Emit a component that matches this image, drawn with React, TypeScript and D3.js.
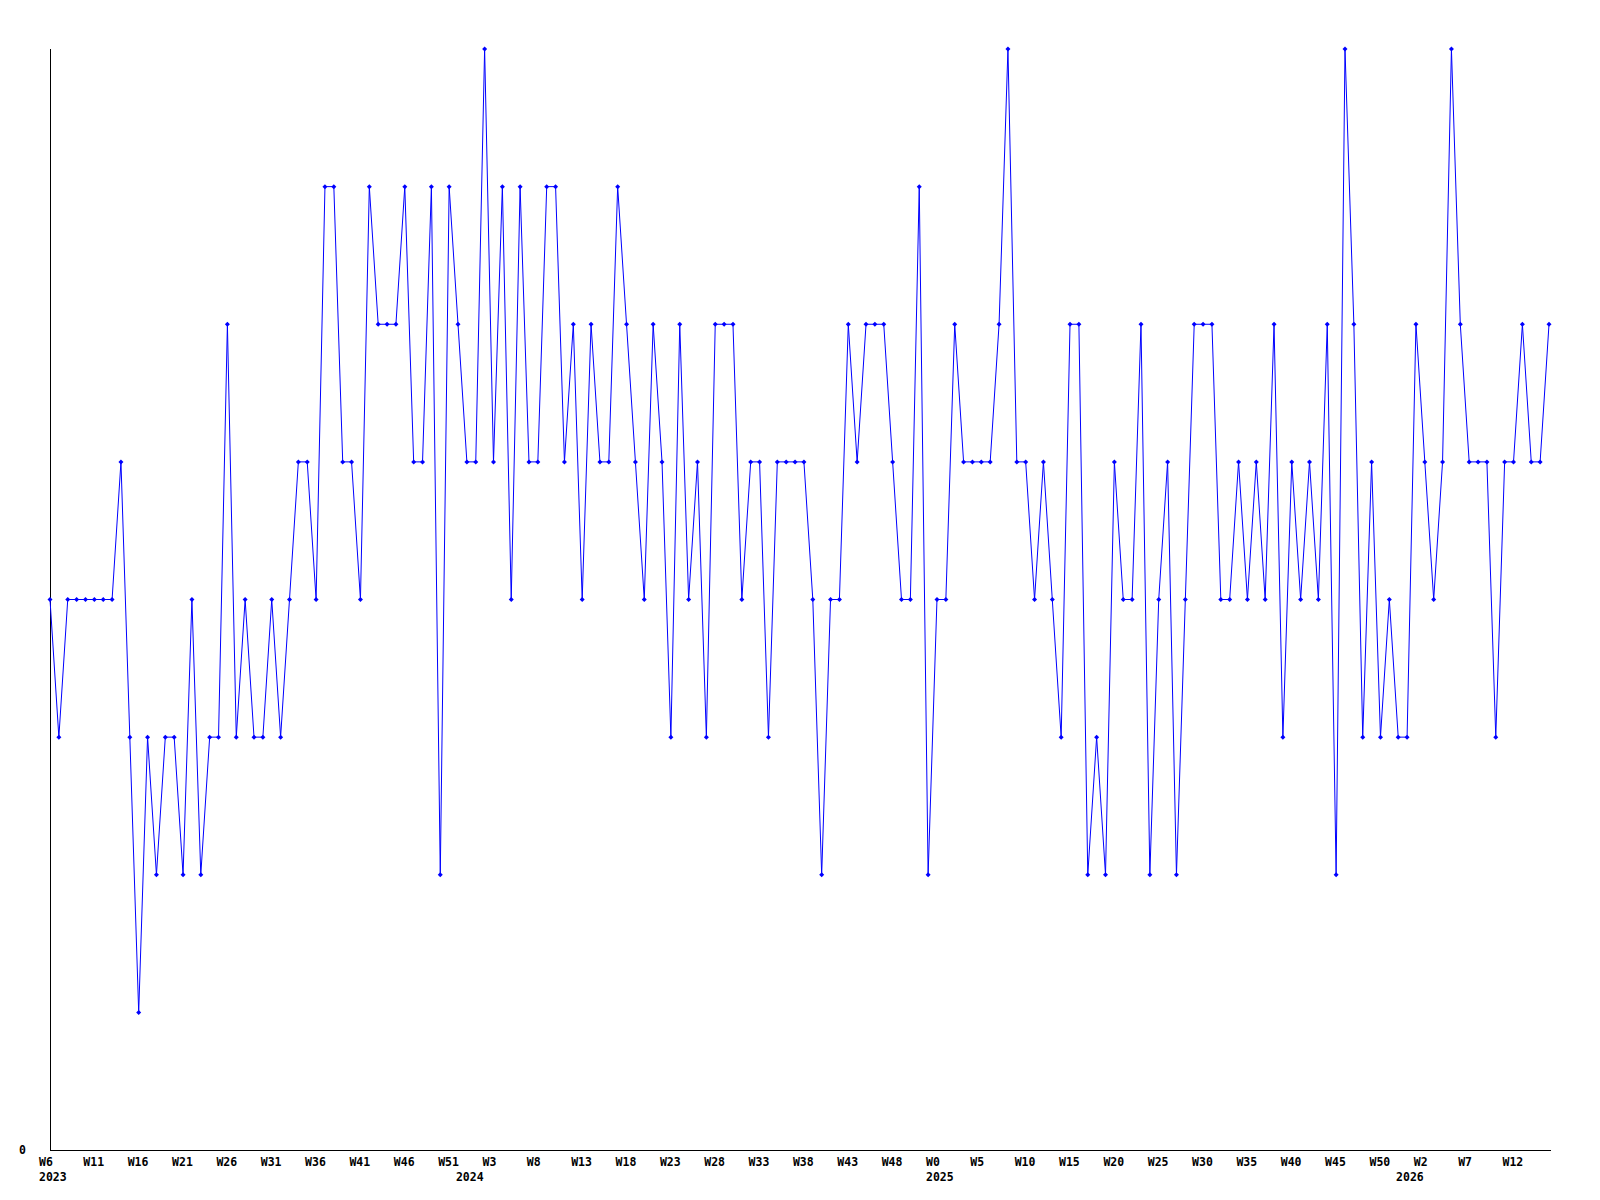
import React from "react";
import * as d3 from "d3";

const values: number[] = [
  4, 3, 4, 4, 4, 4, 4, 4, 5, 3,
  1, 3, 2, 3, 3, 2, 4, 2, 3, 3,
  6, 3, 4, 3, 3, 4, 3, 4, 5, 5,
  4, 7, 7, 5, 5, 4, 7, 6, 6, 6,
  7, 5, 5, 7, 2, 7, 6, 5, 5, 8,
  5, 7, 4, 7, 5, 5, 7, 7, 5, 6,
  4, 6, 5, 5, 7, 6, 5, 4, 6, 5,
  3, 6, 4, 5, 3, 6, 6, 6, 4, 5,
  5, 3, 5, 5, 5, 5, 4, 2, 4, 4,
  6, 5, 6, 6, 6, 5, 4, 4, 7, 2,
  4, 4, 6, 5, 5, 5, 5, 6, 8, 5,
  5, 4, 5, 4, 3, 6, 6, 2, 3, 2,
  5, 4, 4, 6, 2, 4, 5, 2, 4, 6,
  6, 6, 4, 4, 5, 4, 5, 4, 6, 3,
  5, 4, 5, 4, 6, 2, 8, 6, 3, 5,
  3, 4, 3, 3, 6, 5, 4, 5, 8, 6,
  5, 5, 5, 3, 5, 5, 6, 5, 5, 6,
];

const weekLabels: string[] = [
  "W6", "W11", "W16", "W21", "W26", "W31", "W36", "W41", "W46", "W51",
  "W3", "W8", "W13", "W18", "W23", "W28", "W33", "W38", "W43", "W48",
  "W0", "W5", "W10", "W15", "W20", "W25", "W30", "W35", "W40", "W45",
  "W50", "W2", "W7", "W12",
];

// year label and the index of the first weekly point of that year
const yearLabels: string[] = ["2023", "2024", "2025", "2026"];
const yearStartIndex: number[] = [0, 47, 100, 153];

const tickStep = 5;

export default function App() {
  const W = 1600;
  const H = 1200;
  const left = 50;
  const right = 1549;
  const top = 49;
  const bottom = 1150;

  const x = d3.scaleLinear().domain([0, values.length - 1]).range([left, right]);
  const y = d3.scaleLinear().domain([0, d3.max(values) as number]).range([bottom, top]);

  const line = d3
    .line<number>()
    .x((_, i) => x(i))
    .y((d) => y(d));

  const font = "'DejaVu Sans Mono', 'Liberation Mono', monospace";

  return (
    <svg
      width={W}
      height={H}
      style={{ position: "absolute", left: 0, top: 0, background: "#fff" }}
    >
      <rect x={0} y={0} width={W} height={H} fill="#fff" />
      <line x1={left} x2={left} y1={top} y2={bottom} stroke="#000" strokeWidth={1} shapeRendering="crispEdges" />
      <line x1={left} x2={1551} y1={bottom} y2={bottom} stroke="#000" strokeWidth={1} shapeRendering="crispEdges" />
      <text x={26} y={bottom} fontFamily={font} fontWeight="bold" fontSize={11.5} textAnchor="end" dominantBaseline="central">
        0
      </text>
      {weekLabels.map((lab, k) => (
        <text
          key={lab + k}
          x={x(k * tickStep) - 11}
          y={1162}
          fontFamily={font}
          fontWeight="bold"
          fontSize={11.5}
          dominantBaseline="central"
        >
          {lab}
        </text>
      ))}
      {yearLabels.map((lab, k) => (
        <text
          key={lab}
          x={x(yearStartIndex[k]) - 11}
          y={1177}
          fontFamily={font}
          fontWeight="bold"
          fontSize={11.5}
          dominantBaseline="central"
        >
          {lab}
        </text>
      ))}
      <path d={line(values) || ""} fill="none" stroke="#0000ff" strokeWidth={1} />
      {values.map((v, i) => {
        const cx = x(i);
        const cy = y(v);
        return (
          <path
            key={i}
            d={`M${cx - 2.5},${cy}L${cx},${cy - 2.5}L${cx + 2.5},${cy}L${cx},${cy + 2.5}Z`}
            fill="#0000ff"
          />
        );
      })}
    </svg>
  );
}
